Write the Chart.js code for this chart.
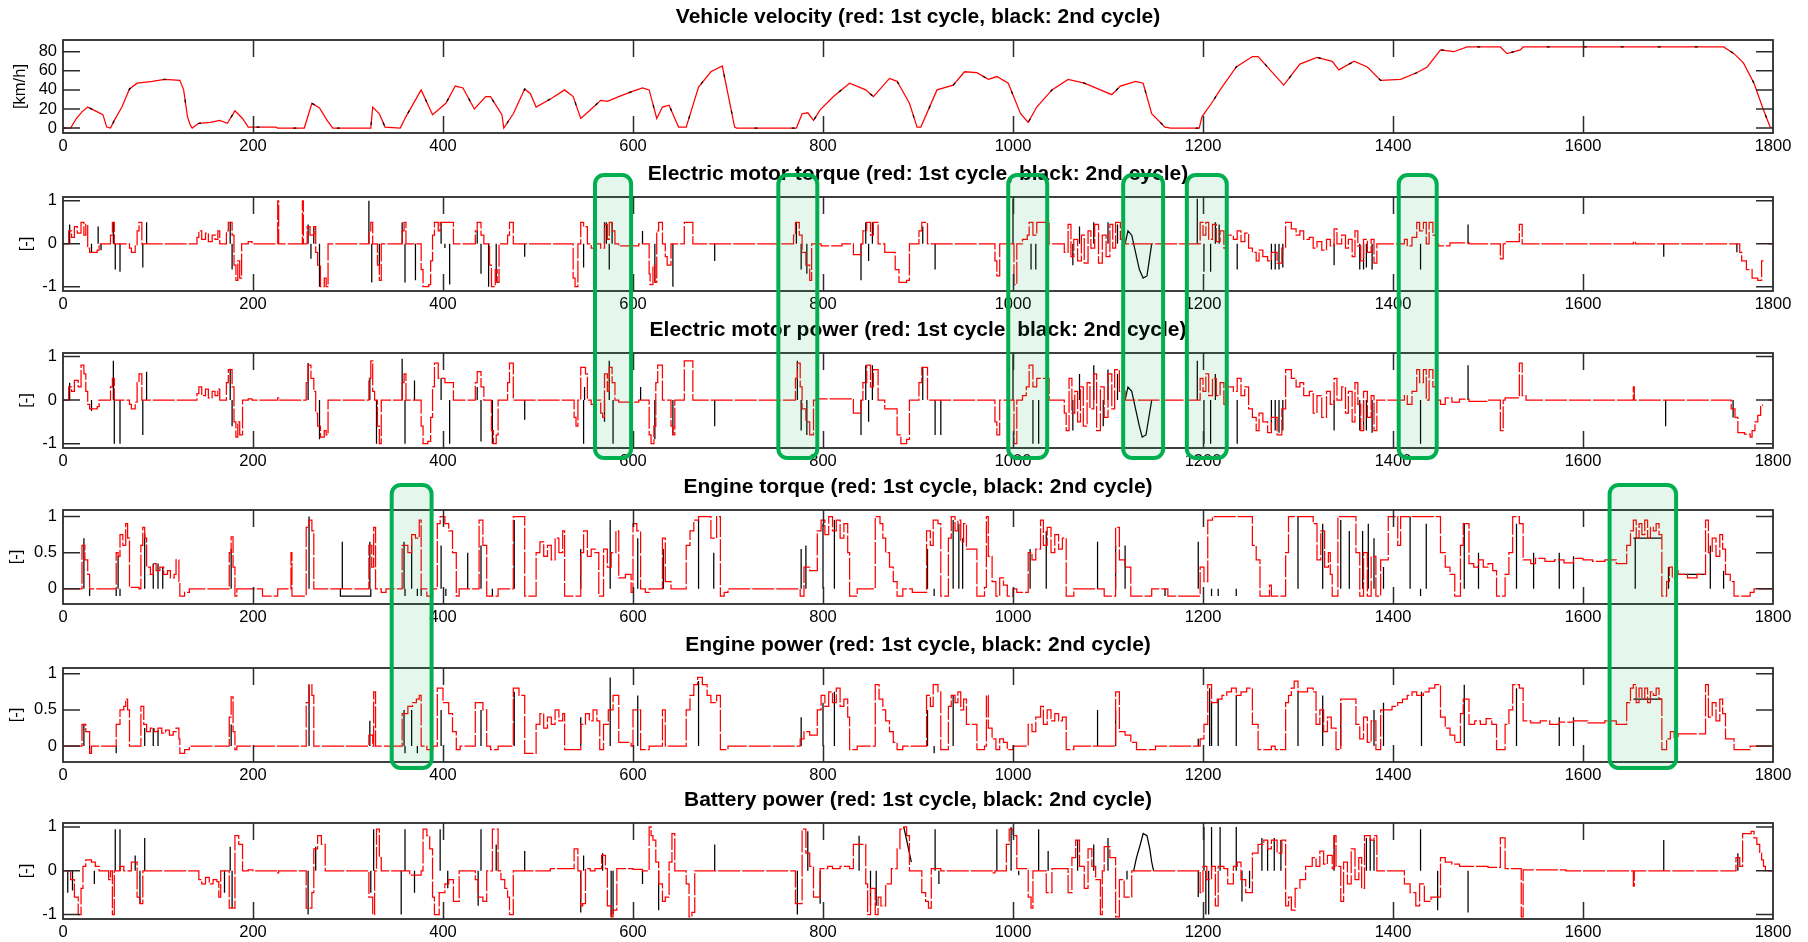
<!DOCTYPE html>
<html>
<head>
<meta charset="utf-8">
<title>Hybrid vehicle drive cycle – two cycles</title>
<script src="https://cdn.jsdelivr.net/npm/chart.js@4.4.1/dist/chart.umd.min.js"></script>
<style>
  html, body { margin: 0; padding: 0; background: #fff; }
  #stage { position: relative; width: 1808px; height: 942px; overflow: hidden; background: #fff; }
  #stage canvas { position: absolute; left: 0; }
  #marks { top: 0; pointer-events: none; }
</style>
</head>
<body>
<div id="stage"></div>
<script>
// ---------- axis ticks ----------
const timeTicks = [0, 200, 400, 600, 800, 1000, 1200, 1400, 1600, 1800];
const speedTicks = [0, 20, 40, 60, 80];
const signedTicks = [-1, 0, 1];
const unitTicks = [0, 0.5, 1];

// ---------- vehicle velocity [s, km/h] (both cycles follow the same schedule) ----------
const velocity = [
  [0,0],[8,0],[14,10],[20,17],[26,22],[34,18],[42,14],[46,1],[50,0],[54,8],[62,22],[70,41],[78,47],[94,49],[107,51],[123,50],[127,40],[131,12],[134,3],
  [136,0],[143,5],[155,6],[165,8],[173,5],[181,18],[189,10],[195,1],[224,1],[226,0],[254,0],[262,26],[270,21],[278,8],[284,0],[324,0],[326,22],[333,15],[339,1],[355,0],
  [361,12],[377,40],[389,14],[403,26],[413,44],[421,42],[433,20],[445,33],[450,33],[462,14],[464,0],[474,15],[486,41],[492,36],[498,22],[514,31],[528,40],[537,33],[545,10],
  [555,19],[566,29],[573,28],[585,33],[598,38],[610,42],[617,40],[625,10],[631,22],[638,24],[644,10],[648,1],[656,1],[669,43],[682,59],[694,65],[707,1],[709,0],
  [772,0],[778,15],[784,16],[790,8],[797,19],[811,33],[828,47],[845,40],[853,33],[870,52],[878,49],[891,26],[899,1],[903,1],[920,40],[937,45],[949,59],[962,58],
  [974,51],[983,54],[995,47],[1008,15],[1016,6],[1025,22],[1041,40],[1058,51],[1075,47],[1092,40],[1104,35],[1113,44],[1129,49],[1137,47],[1146,15],[1160,1],[1166,0],
  [1196,0],[1199,12],[1209,26],[1218,40],[1235,64],[1252,75],[1258,75],[1285,45],[1302,67],[1320,74],[1336,70],[1343,61],[1359,70],[1373,64],[1387,50],[1408,51],
  [1425,58],[1436,64],[1450,82],[1464,80],[1478,85],[1513,85],[1520,78],[1534,82],[1537,85],[1748,85],[1759,78],[1769,68],[1780,47],[1790,19],[1797,1],[1800,0]
];

// ---------- electric motor torque [-] ----------
const motorTorqueRed = [
  [0,0],[6,0.3],[9,0.15],[12,0.4],[15,0.25],[19,0.5],[22,0.2],[24,0.45],[26,-0.1],[28,-0.2],[36,-0.15],[38,0],[50,0.2],[52,0.5],[54,0],[70,-0.1],[72,-0.2],[76,-0.05],[78,0.3],[80,0.5],[83,0],
  [141,0.15],[143,0.3],[146,0.1],[150,0.25],[153,0.05],[157,0.2],[160,0.1],[163,0.3],[165,0],[172,0.3],[174,0.5],[178,0.2],[180,-0.5],[182,-0.85],[184,-0.4],[186,-0.8],[188,0],[195,0.05],[199,0],
  [226,1],[227,0],[252,1],[253,0],[257,0.4],[260,0.2],[264,0.4],[266,-0.2],[268,-0.5],[271,-1],[275,-0.8],[277,-1],[279,0],
  [322,0.3],[324,0.5],[326,0],[331,-0.5],[333,-0.85],[335,0],[357,0.3],[359,0.5],[361,0],[377,-0.6],[379,-1],[385,-0.95],[387,-0.4],[389,0.2],[391,0.5],[395,0.3],[397,0.5],[411,0],
  [434,0.3],[436,0.5],[440,0.2],[443,0],[449,-0.5],[451,-1],[455,-0.6],[457,-0.9],[459,0],[468,0.2],[470,0.5],[474,0],
  [537,-0.8],[539,-1],[542,0],[545,0.5],[548,0.4],[552,0],[556,-0.1],[560,0],[566,-0.1],[570,0.45],[573,0.1],[575,0.5],[578,0.3],[581,0],[585,-0.05],[606,0],
  [617,-0.7],[618,-0.95],[621,-0.5],[623,-0.9],[625,0.3],[627,0.5],[631,0],[634,-0.3],[636,-0.5],[640,0],[654,0.5],[663,0],
  [769,0.2],[771,0.5],[775,0.2],[778,-0.2],[782,-0.5],[786,-0.85],[788,0],[798,-0.05],[820,0],[832,-0.25],[840,0],[842,0.3],[846,0.5],[850,0.2],[853,0.5],[858,0],
  [865,-0.2],[876,-0.6],[880,-0.9],[888,-0.85],[891,0],[901,0.3],[904,0.5],[910,0],
  [981,-0.4],[983,-0.75],[986,0],[1001,-0.95],[1004,0],[1010,0.1],[1015,0.2],[1017,0.5],[1021,0.2],[1025,0.5],[1038,0],
  [1054,-0.2],[1058,0.45],[1061,-0.3],[1064,0.1],[1068,-0.4],[1072,0.2],[1075,-0.45],[1079,0.3],[1082,-0.1],[1086,0.45],[1090,-0.45],[1094,0.2],[1098,-0.3],[1102,0.45],[1105,-0.1],[1108,0.5],[1113,0.1],[1118,0],
  [1197,0.5],[1200,0.2],[1203,0.5],[1206,0.1],[1210,0.45],[1214,0.05],[1218,0.3],[1222,-0.1],[1226,0.2],[1232,0.1],[1236,0.3],[1240,0.05],[1244,0.25],[1248,-0.1],[1252,-0.2],[1256,-0.4],
  [1259,-0.15],[1263,-0.3],[1268,-0.4],[1272,-0.2],[1278,-0.45],[1283,-0.1],[1287,0.5],[1293,0.35],[1298,0.2],[1302,0.3],[1306,0.1],[1312,0.15],[1316,-0.1],[1320,0.05],[1325,-0.15],
  [1330,0.1],[1334,-0.05],[1338,0.35],[1341,0],[1346,0.2],[1350,-0.1],[1353,0.1],[1357,-0.3],[1360,0.3],[1363,-0.05],[1366,-0.4],[1369,0.1],[1373,-0.2],[1377,0.1],[1380,-0.45],[1383,0],
  [1412,0.1],[1415,-0.05],[1420,0.15],[1425,0.5],[1428,0.3],[1432,0.5],[1435,0],[1438,0.5],[1442,0.2],[1446,0],[1448,-0.05],[1460,0.02],[1480,0],[1513,-0.35],[1516,0],[1518,0.05],[1533,0.45],[1536,0],
  [1653,0.05],[1655,0],[1765,-0.2],[1767,-0.4],[1772,-0.6],[1778,-0.8],[1784,-0.85],[1788,-0.4],[1790,-0.4],[1790,null],[1795,0],[1800,0]
];
const motorTorqueBlackSpikes = [
  [7,0.45],[30,-0.2],[37,0.4],[40,-0.15],[53,0.5],[55,-0.6],[60,-0.65],[84,-0.55],[88,0.5],[176,0.5],[178,-0.6],[258,0.45],[261,-0.35],[264,0.4],[270,-1],
  [322,1],[325,-0.9],[333,-0.5],[357,0.5],[360,-0.9],[371,-0.85],[398,0.5],[402,-0.1],[407,-0.95],[436,0.3],[440,-0.7],[448,-1],[456,-0.9],[486,-0.3],[548,-0.55],
  [570,0.5],[572,0.5],[575,-0.6],[578,0.5],[610,0.3],[623,-0.9],[642,-1],[686,-0.4],[772,0.5],[777,-0.6],[783,-0.7],[840,-0.85],[845,0.5],[848,-0.4],[852,0.5],
  [905,0.4],[918,-0.6],[1000,1.05],[1019,-0.6],[1024,-0.6],[1063,-0.5],[1070,0.4],[1085,0.5],[1100,0.5],[1110,0.45],[1194,1.05],[1201,-0.65],[1208,-0.65],[1213,0.5],
  [1217,0.45],[1236,-0.6],[1272,-0.6],[1276,-0.6],[1280,-0.6],[1284,-0.55],[1338,-0.5],[1365,-0.6],[1369,-0.6],[1372,-0.55],[1378,-0.6],[1429,-0.6],[1479,0.45],[1685,-0.3],[1762,-0.2]
];
const motorTorqueBlackTraces = [
  [[1118,0],[1121,0.3],[1125,0.2],[1129,-0.2],[1133,-0.6],[1137,-0.8],[1141,-0.75],[1144,-0.3],[1146,0]]
];

// ---------- electric motor power [-] ----------
const motorPowerRed = [
  [0,0],[6,0.3],[9,0.2],[12,0.45],[16,0.3],[19,0.8],[22,0.6],[24,0.2],[26,-0.1],[28,-0.2],[36,-0.15],[38,0],[50,0.3],[52,0.5],[54,0],[70,-0.1],[72,-0.2],[76,-0.05],[78,0.4],[80,0.6],[83,0],
  [141,0.15],[143,0.3],[146,0.1],[150,0.25],[153,0.05],[157,0.2],[160,0.1],[163,0.25],[165,0],[172,0.4],[174,0.7],[178,0.3],[180,-0.5],[182,-0.85],[184,-0.5],[186,-0.8],[189,0],[195,0.03],[199,0],
  [226,0.05],[227,0],[256,0.4],[258,0.8],[261,0.5],[264,0.2],[266,-0.3],[268,-0.6],[271,-0.85],[275,-0.7],[277,-0.8],[279,0],
  [322,0.5],[324,0.9],[326,0.2],[328,0],[331,-0.6],[333,-1],[335,0],[357,0.4],[359,0.6],[361,0],[377,-0.6],[379,-1],[384,-0.95],[387,-0.4],[389,0.3],[391,0.85],[395,0.5],[402,0.4],[411,0],
  [434,0.4],[436,0.65],[440,0.3],[443,0],[451,-0.7],[453,-1],[456,-0.8],[458,0],[468,0.4],[470,0.85],[474,0],
  [538,-0.4],[540,-0.6],[542,0],[545,0.75],[550,0.6],[552,0],[556,-0.1],[560,0],[566,-0.3],[568,-0.4],[570,0.6],[573,0.2],[575,0.75],[578,0.4],[581,0],[585,-0.05],[606,0],
  [617,-0.8],[619,-1],[622,-0.6],[624,0.4],[626,0.8],[631,0],[640,-0.6],[642,-0.8],[644,0],[654,0.9],[663,0],
  [771,0.5],[773,0.85],[776,0.3],[778,-0.2],[782,-0.5],[786,-0.8],[790,0],[794,0.03],[832,-0.3],[840,0],[842,0.4],[846,0.8],[850,0.3],[853,0.7],[858,0],
  [865,-0.2],[878,-0.8],[882,-1],[888,-0.9],[891,0],[901,0.4],[904,0.75],[910,0],
  [981,-0.5],[983,-0.8],[986,0],[1001,-1],[1004,0],[1010,0.1],[1014,0.3],[1017,0.8],[1021,0.3],[1025,0.5],[1038,0],
  [1054,-0.3],[1056,-0.7],[1059,0.5],[1062,-0.3],[1065,0.2],[1068,-0.5],[1071,0.3],[1074,-0.6],[1078,0.4],[1081,-0.2],[1085,0.6],[1088,-0.7],[1092,0.3],[1096,-0.4],[1100,0.6],[1104,-0.2],[1107,0.7],[1112,0.2],[1118,0],
  [1197,0.5],[1200,0.2],[1203,0.6],[1206,0.1],[1210,0.5],[1214,0.1],[1218,0.4],[1222,-0.1],[1226,0.3],[1232,0.2],[1236,0.5],[1240,0.1],[1244,0.3],[1248,-0.2],[1252,-0.4],[1256,-0.7],
  [1259,-0.3],[1263,-0.5],[1268,-0.75],[1272,-0.4],[1278,-0.8],[1283,-0.2],[1287,0.7],[1293,0.5],[1298,0.3],[1302,0.4],[1306,0.1],[1312,0.2],[1316,-0.3],[1320,0.1],[1325,-0.4],
  [1330,0.2],[1334,-0.1],[1338,0.5],[1341,0],[1346,0.3],[1350,-0.3],[1353,0.2],[1357,-0.5],[1360,0.4],[1363,-0.1],[1366,-0.7],[1369,0.2],[1373,-0.4],[1377,0.1],[1380,-0.7],[1383,0],
  [1412,0.1],[1415,-0.1],[1420,0.2],[1425,0.7],[1428,0.4],[1432,0.7],[1435,0],[1438,0.7],[1442,0.3],[1446,0],[1450,-0.1],[1455,0.05],[1462,-0.05],[1470,0.02],[1480,-0.03],[1500,0],
  [1513,-0.7],[1516,0],[1518,0.05],[1533,0.85],[1536,0.1],[1540,0],[1653,0.3],[1654,0],
  [1756,-0.2],[1760,-0.4],[1763,-0.75],[1770,-0.78],[1776,-0.85],[1778,-0.7],[1781,-0.5],[1784,-0.35],[1787,-0.15],[1789,-0.1],[1790,null],[1795,0],[1800,0]
];
const motorPowerBlackSpikes = [
  [7,0.4],[30,-0.25],[53,0.9],[54,-1],[60,-1],[84,-0.8],[88,0.65],[176,0.72],[178,-0.6],[258,0.85],[270,-0.9],[323,0.5],[330,-1],[357,0.95],[360,-1],[370,0.45],
  [398,0.5],[407,-1],[436,0.3],[440,-0.95],[452,-1],[486,-0.45],[548,-1],[549,0.3],[570,-0.5],[575,0.9],[579,-1],[608,0.3],[623,-0.9],[642,-0.8],[686,-0.6],
  [773,0.9],[777,-0.7],[783,-0.8],[840,-0.8],[845,0.8],[848,-0.5],[852,0.8],[905,0.75],[918,-0.8],[924,-0.8],[1000,1.05],[1021,-1],[1027,-1],[1063,-0.7],[1070,0.6],
  [1085,0.8],[1095,-0.6],[1100,0.7],[1110,0.6],[1194,0.9],[1201,-1],[1208,-1],[1213,0.6],[1236,-1],[1272,-0.7],[1276,-0.7],[1280,-0.75],[1284,-0.7],[1338,-0.7],
  [1365,-0.7],[1369,-0.7],[1372,-0.7],[1378,-0.75],[1429,-1],[1479,0.8],[1687,-0.6],[1758,-0.4]
];
const motorPowerBlackTraces = [
  [[1118,0],[1121,0.3],[1125,0.2],[1129,-0.2],[1133,-0.6],[1136,-0.85],[1140,-0.8],[1143,-0.4],[1146,0]]
];

// ---------- engine torque [-] ----------
const engineTorqueRed = [
  [0,0],[20,0.6],[23,0.4],[26,0.2],[28,0],[56,0.5],[58,0.45],[60,0.75],[63,0.6],[66,0.9],[68,0.7],[70,0.02],[80,0],[82,0.6],[84,0.85],[86,0.7],[88,0.3],[92,0.2],[95,0.35],[98,0.25],
  [102,0.3],[106,0.2],[110,0.25],[113,0.15],[117,0.2],[119,0.4],[122,0.1],[123,-0.1],[128,-0.05],[133,0],
  [175,0.5],[177,0.72],[179,0.3],[181,-0.1],[183,0],[210,-0.1],[226,0],[240,0.5],[241,-0.1],[256,0.85],[259,0.95],[262,0.8],[264,0],
  [322,0.6],[325,0.3],[327,0.85],[329,0],[335,-0.05],[340,0],[357,0.6],[363,0.5],[367,0.75],[371,0.7],[375,0.95],[377,0],[383,-0.1],[389,0],
  [394,0.9],[397,1],[402,0.9],[406,0.8],[410,0.5],[414,-0.1],[417,0],[438,0.95],[442,0.6],[446,-0.1],[458,0],[474,1],[486,-0.1],[498,0.5],[502,0.65],[506,0.45],[510,0.6],
  [514,0.4],[518,0.7],[522,0.5],[526,0.8],[528,-0.1],[545,0.5],[548,0.8],[552,0.45],[556,0.55],[560,0.5],[564,-0.1],[569,0.55],[573,0.3],[577,0.5],[582,0.8],[585,0.15],
  [592,0.2],[598,-0.05],[600,0.9],[604,0.8],[608,0],[613,-0.05],[617,0],[631,0.7],[634,0.1],[640,0],[656,0.6],[660,0.8],[664,0.95],[669,1],[682,0.7],[688,1],[692,-0.1],[696,-0.05],[700,0],
  [776,-0.1],[780,0.3],[786,0.25],[794,0.8],[798,0.95],[802,0.75],[806,1],[810,0.8],[814,0.95],[818,0.7],[822,0.9],[826,0.5],[828,-0.1],[836,0],[855,1],[860,0.9],[863,0.7],
  [866,0.5],[870,0.3],[874,0.1],[878,-0.1],[884,0],[894,-0.05],[909,0.8],[913,0.6],[916,0.95],[921,0.9],[924,-0.1],[932,0.7],[935,1],[939,0.8],[942,0.95],[945,0.65],[948,0.9],
  [951,0.55],[962,-0.1],[970,0.02],[972,1],[974,0.45],[978,0.1],[982,-0.1],[986,0.15],[990,0.05],[994,-0.1],[1000,0],[1004,-0.05],[1016,0.5],[1020,0.4],[1024,0.55],[1029,0.95],
  [1032,0.6],[1036,0.85],[1040,0.5],[1044,0.75],[1048,0.55],[1052,0.7],[1056,-0.1],[1064,0],[1096,-0.1],[1108,0.85],[1112,0.4],[1118,0.3],[1124,-0.1],[1146,0],[1163,-0.1],
  [1197,0.3],[1201,0.1],[1205,0.95],[1210,1],[1252,0.6],[1256,0.4],[1260,-0.1],[1270,0.05],[1272,-0.1],[1287,0.5],[1290,1],[1316,0.9],[1320,0.4],[1324,0.8],[1328,0.3],[1332,0.5],
  [1334,0.2],[1336,-0.1],[1342,1],[1361,0.5],[1365,-0.1],[1369,0.5],[1373,-0.1],[1377,0.45],[1382,-0.1],[1387,0.4],[1395,1],[1405,0.6],[1408,1],[1450,0.5],[1455,0.3],[1460,0.2],
  [1465,-0.1],[1471,0.6],[1474,0.9],[1480,0.35],[1485,0.3],[1490,0.4],[1495,0.3],[1500,0.35],[1505,0.25],[1509,-0.1],[1518,0.2],[1522,0.5],[1526,1],[1533,0.9],[1537,0.4],
  [1545,0.35],[1550,0.42],[1560,0.38],[1570,0.4],[1580,0.36],[1590,0.42],[1600,0.4],[1610,0.38],[1623,0.4],[1635,0.35],[1646,0.6],[1650,0.8],[1653,0.95],[1656,0.7],[1659,0.9],
  [1662,0.75],[1665,0.95],[1668,0.7],[1671,0.85],[1674,0.8],[1677,0.9],[1680,0.75],[1683,-0.1],[1688,0.1],[1691,0.3],[1694,0.15],[1697,0.25],[1700,0.2],[1710,0.15],[1720,0.2],
  [1729,0.95],[1732,0.5],[1736,0.7],[1740,0.45],[1744,0.75],[1747,0.55],[1750,0.2],[1755,0.1],[1759,-0.1],[1776,-0.05],[1780,0],[1800,0]
];
const engineTorqueBlackSpikes = [
  [22,0.7],[28,-0.1],[56,-0.1],[58,0.45],[60,-0.1],[86,0.77],[95,0.35],[100,0.35],[105,0.3],[177,0.55],[259,1],[294,0.65],[323,0.65],[359,0.65],[360,-0.1],[367,0.7],
  [373,-0.1],[377,-0.1],[398,0.6],[403,-0.1],[426,0.5],[440,0.6],[452,-0.1],[475,0.95],[545,0.55],[576,0.95],[605,0.7],[632,0.55],[669,0.95],[685,0.5],[777,0.55],[782,0.6],
  [800,0.9],[812,0.95],[910,0.55],[917,-0.1],[937,0.95],[943,0.9],[947,0.7],[1018,0.55],[1035,0.8],[1089,0.65],[1108,0.6],[1118,0.6],[1160,-0.1],[1195,0.65],[1209,-0.1],
  [1216,-0.1],[1235,-0.1],[1300,1],[1326,0.9],[1345,0.95],[1354,0.8],[1368,0.8],[1374,0.9],[1380,0.7],[1390,0.3],[1418,1],[1429,-0.1],[1435,0.9],[1475,0.9],[1490,0.5],
  [1530,0.9],[1548,0.5],[1575,0.5],[1590,0.45],[1655,0.7],[1690,0.3],[1734,0.6],[1748,0.25]
];
const engineTorqueBlackTraces = [
  [[292,0],[292,-0.1],[324,-0.1],[324,0]],
  [[1653,0.7],[1683,0.7]],
  [[1700,0.2],[1729,0.2]]
];

// ---------- engine power [-] ----------
const enginePowerRed = [
  [0,0],[20,0.3],[24,0.2],[28,-0.1],[30,0],[56,0.3],[60,0.5],[64,0.55],[66,0.65],[68,0.5],[70,0],[82,0.55],[85,0.3],[88,0.2],[92,0.25],[96,0.2],[100,0.25],[104,0.18],[108,0.22],
  [112,0.15],[116,0.2],[119,0.25],[122,0.1],[123,-0.1],[128,-0.05],[133,0],
  [175,0.4],[177,0.68],[179,0.2],[181,-0.05],[183,0],[256,0.6],[259,0.85],[262,0.7],[264,0],[322,0.15],[326,0],[327,0.75],[329,0],[357,0.45],[363,0.55],[368,0.6],[372,0.65],
  [375,0.7],[377,0],[383,-0.05],[389,0],[394,0.8],[400,0.6],[406,0.45],[410,0.2],[414,-0.05],[418,0],[434,0.6],[442,0.5],[446,0],[450,-0.05],[458,0],[474,0.8],[480,0.7],
  [486,-0.1],[498,0.3],[502,0.45],[506,0.25],[510,0.4],[514,0.3],[518,0.5],[522,0.35],[526,0.45],[528,-0.05],[545,0.3],[550,0.45],[554,0.35],[558,0.5],[562,0.35],[565,-0.05],
  [569,0.3],[574,0.5],[579,0.7],[585,0.05],[598,0],[600,0.5],[608,-0.05],[617,0],[631,0.5],[634,0],[656,0.5],[660,0.7],[664,0.85],[668,0.95],[673,0.85],[678,0.7],[682,0.6],
  [688,0.7],[692,-0.05],[700,0],
  [776,0.1],[780,0.2],[786,0.15],[794,0.5],[798,0.7],[802,0.55],[806,0.75],[810,0.6],[814,0.8],[818,0.55],[822,0.65],[826,0.4],[828,-0.05],[836,0],[855,0.85],[859,0.65],
  [863,0.5],[866,0.35],[870,0.2],[874,0.05],[878,-0.05],[884,0],[909,0.7],[913,0.55],[916,0.85],[921,0.75],[924,-0.05],[932,0.55],[935,0.7],[939,0.6],[942,0.75],[945,0.5],
  [948,0.65],[951,0.3],[962,-0.05],[970,0],[972,0.7],[974,0.25],[978,0.1],[982,-0.05],[986,0.1],[990,0.05],[994,-0.05],[1000,0],[1016,0.3],[1020,0.2],[1024,0.4],[1029,0.55],
  [1032,0.3],[1036,0.5],[1040,0.35],[1044,0.45],[1048,0.35],[1052,0.4],[1056,-0.05],[1064,0],[1108,0.75],[1112,0.2],[1118,0.15],[1124,0.05],[1130,-0.05],[1150,0],
  [1197,0.1],[1201,0.3],[1205,0.85],[1209,0.6],[1215,0.65],[1220,0.7],[1225,0.75],[1230,0.8],[1235,0.7],[1240,0.75],[1246,0.8],[1252,0.3],[1258,-0.05],[1272,0],[1276,-0.05],
  [1287,0.6],[1290,0.7],[1293,0.8],[1296,0.9],[1300,0.75],[1310,0.8],[1316,0.75],[1319,0.3],[1323,0.5],[1327,0.2],[1331,0.4],[1335,0.25],[1340,-0.05],[1345,0.65],[1361,0.3],
  [1365,0.1],[1369,0.4],[1373,0.05],[1377,0.35],[1382,-0.05],[1387,0.5],[1399,0.55],[1405,0.6],[1410,0.65],[1415,0.7],[1420,0.75],[1425,0.7],[1432,0.75],[1438,0.8],[1444,0.85],
  [1450,0.4],[1455,0.25],[1460,0.15],[1465,0.05],[1471,0.45],[1474,0.65],[1480,0.3],[1486,0.35],[1492,0.3],[1498,0.38],[1504,0.3],[1509,-0.05],[1518,0.3],[1522,0.5],[1526,0.85],
  [1533,0.8],[1537,0.35],[1545,0.32],[1555,0.35],[1565,0.3],[1575,0.33],[1590,0.35],[1605,0.32],[1623,0.35],[1635,0.3],[1646,0.6],[1650,0.8],[1653,0.85],[1656,0.6],[1659,0.8],
  [1662,0.65],[1665,0.8],[1668,0.6],[1671,0.75],[1674,0.7],[1677,0.8],[1680,0.65],[1683,-0.05],[1688,0.1],[1692,0.2],[1696,0.12],[1700,0.17],[1729,0.85],[1732,0.4],[1736,0.6],
  [1740,0.35],[1744,0.65],[1747,0.45],[1750,0.1],[1759,-0.05],[1776,0],[1800,0]
];
const enginePowerBlackSpikes = [
  [22,0.3],[28,-0.1],[56,-0.1],[86,0.25],[95,0.25],[100,0.22],[177,0.3],[259,0.85],[323,0.35],[359,0.5],[360,-0.1],[367,0.5],[373,-0.1],[398,0.5],[440,0.5],[475,0.75],
  [545,0.4],[576,0.95],[605,0.7],[669,0.9],[777,0.4],[800,0.6],[812,0.75],[910,0.5],[917,-0.1],[937,0.7],[1089,0.5],[1108,0.5],[1195,0.1],[1207,0.8],[1300,0.75],[1326,0.7],
  [1345,0.6],[1380,0.5],[1390,0.6],[1430,0.75],[1475,0.85],[1530,0.8],[1575,0.4],[1590,0.4]
];
const enginePowerBlackTraces = [
  [[1653,0.65],[1683,0.65]],
  [[1209,0.6],[1209,0]],[[1216,0.65],[1216,0]],[[1235,0.7],[1235,0]]
];

// ---------- battery power [-] ----------
const batteryPowerRed = [
  [0,0],[8,-0.2],[12,-0.6],[16,-1],[19,-0.4],[21,0.1],[24,0.25],[30,0.2],[34,0.1],[38,0],[48,-0.2],[50,0],[52,-1],[54,0],[60,0.1],[64,0],[72,0.2],[78,-0.6],[81,-0.75],[84,0],
  [143,-0.2],[146,-0.3],[150,-0.15],[154,-0.3],[158,-0.2],[162,-0.25],[164,-0.6],[166,0],[175,-0.85],[181,0.8],[185,0.6],[189,0],[195,0.02],[200,0],[226,-0.05],[227,0],
  [256,-0.85],[262,-0.5],[264,0.5],[268,0.8],[272,0.6],[276,0],
  [322,-0.6],[326,-1],[328,0],[330,0.95],[333,0.3],[335,0],[365,-0.1],[377,0],[379,0.95],[383,0.8],[386,0.5],[389,-0.6],[391,-1],[396,-0.5],[402,-0.3],[406,-0.2],[411,-0.7],[417,0],
  [434,-0.2],[437,-0.6],[442,-0.7],[446,0],[452,0.95],[458,0],[461,-0.2],[465,-0.4],[468,-0.6],[470,-1],[474,0],
  [513,0.05],[538,0.5],[542,0],[545,-0.8],[547,-0.75],[550,0.05],[555,0],[560,0.05],[567,0.35],[571,0.05],[573,-0.8],[577,-1.05],[579,-0.9],[583,0.05],[600,0.03],[610,0],
  [617,1],[619,0.8],[621,0.7],[624,0.2],[627,-0.3],[631,-0.7],[634,-0.6],[638,0.2],[641,0.85],[644,0],[656,-0.3],[659,-1.05],[662,-0.95],[665,0],
  [771,-0.75],[778,0.95],[782,0.4],[786,0.1],[790,-0.6],[797,0.05],[805,0.1],[810,0.05],[818,0.1],[828,0.05],[832,0.6],[845,-0.3],[847,-1],[850,-0.4],[855,-1],[858,-0.6],
  [861,-0.8],[866,-0.3],[872,0.05],[878,0.5],[881,0.95],[885,1],[888,0.8],[891,0],[904,-0.5],[908,-0.7],[911,-0.85],[914,0.05],[924,0],[979,-0.05],[981,0],
  [993,0.6],[996,0.95],[1000,0.8],[1004,0.05],[1016,-0.6],[1019,-0.85],[1021,0],[1035,-0.5],[1041,0.05],[1058,-0.5],[1062,0.3],[1066,0.7],[1070,0.1],[1075,-0.4],[1079,0.5],
  [1083,0.1],[1087,-0.2],[1092,-1],[1094,0],[1096,0.55],[1102,0.3],[1108,-1.05],[1112,-0.2],[1117,-0.6],[1125,0],
  [1197,-0.5],[1200,0.1],[1204,-0.2],[1209,0.1],[1213,-0.8],[1216,0.1],[1222,0.05],[1226,-0.3],[1232,0.1],[1236,0.2],[1240,-0.2],[1245,-0.5],[1252,0.4],[1258,0.6],[1264,0.7],
  [1268,0.5],[1272,0.7],[1278,0.4],[1283,0.7],[1287,-0.8],[1290,-0.6],[1293,-0.9],[1297,-0.4],[1302,-0.2],[1308,0.1],[1315,0.3],[1319,0.1],[1323,0.45],[1327,0.15],[1331,0.35],
  [1336,0.05],[1338,0.8],[1340,0.1],[1345,-0.7],[1348,0.2],[1352,-0.3],[1356,0.5],[1360,-0.2],[1364,0.3],[1367,-0.4],[1370,0.8],[1376,0.7],[1380,0.8],[1383,0],
  [1412,-0.3],[1418,-0.5],[1424,-0.8],[1428,-0.3],[1433,-0.7],[1440,-0.6],[1450,0.3],[1455,0.2],[1462,0.15],[1470,0.1],[1480,0.1],[1500,0.08],[1513,0.75],[1518,0.05],
  [1535,-1.05],[1537,0.02],[1582,0],[1653,-0.35],[1654,0],[1761,0.3],[1765,0.1],[1768,0.85],[1777,0.9],[1780,0.75],[1783,0.6],[1786,0.4],[1788,0.25],[1790,0.1],[1792,0],[1800,0]
];
const batteryPowerBlackSpikes = [
  [5,-0.5],[10,-0.45],[33,-0.3],[55,0.95],[60,0.95],[76,0.35],[81,-0.75],[86,0.75],[170,-0.5],[176,0.55],[178,-0.85],[258,-1],[266,0.55],[324,-0.5],[327,0.95],[356,-1],
  [360,0.95],[370,-0.5],[397,0.95],[405,-0.4],[437,-0.8],[440,0.95],[456,0.6],[486,0.45],[545,-0.95],[548,0.35],[568,0.4],[577,-1.05],[579,-1],[610,-0.3],[627,-0.9],
  [686,0.6],[773,-1],[784,0.9],[797,-0.75],[838,0.8],[850,-0.8],[856,-0.8],[918,0.95],[922,-0.3],[983,0.95],[998,1],[1006,-0.1],[1027,0.95],[1037,0.45],[1068,0.7],
  [1085,0.6],[1100,0.75],[1120,-0.2],[1195,-0.6],[1201,1],[1203,-1],[1206,-1],[1209,1],[1218,1],[1235,1],[1241,-0.7],[1249,-0.4],[1262,0.75],[1268,0.7],[1275,0.75],
  [1282,0.7],[1338,0.8],[1372,0.75],[1376,0.75],[1380,0.7],[1429,0.95],[1447,-0.9],[1479,-0.95],[1685,0.7],[1763,0.4]
];
const batteryPowerBlackTraces = [
  [[1127,0],[1130,0.3],[1134,0.6],[1137,0.85],[1141,0.8],[1144,0.5],[1146,0.2],[1148,0]],
  [[885,1],[889,0.6],[893,0.2]]
];

// ---------- highlighted time windows [s] ----------
const motorWindows = [[560, 598], [753, 794], [995, 1036], [1116, 1158], [1183, 1225], [1406, 1446]];
const engineWindows = [[346, 388], [1628, 1698]];

// ---------- layout / drawing ----------
const FONT = '"Liberation Sans", Arial, Helvetica, sans-serif';
const TITLE_BLOCK = 38;   // title height incl. paddings
const XAXIS_BLOCK = 30;   // height reserved for time labels
const TICK_LEN = 17;
const LINE_W = 1.25;

const panels = [
  { title: 'Vehicle velocity (red: 1st cycle, black: 2nd cycle)', top: 40, bottom: 133, min: -5.2, max: 92.3,
    yTicks: speedTicks, yTitle: '[km/h]', yTitlePad: 11, red: velocity, blackLine: velocity, stepped: false },
  { title: 'Electric motor torque (red: 1st cycle, black: 2nd cycle)', top: 197, bottom: 291, min: -1.1, max: 1.09,
    yTicks: signedTicks, yTitle: '[-]', yTitlePad: 17, red: motorTorqueRed, spikes: motorTorqueBlackSpikes, traces: motorTorqueBlackTraces, stepped: true },
  { title: 'Electric motor power (red: 1st cycle, black: 2nd cycle)', top: 353, bottom: 448, min: -1.1, max: 1.08,
    yTicks: signedTicks, yTitle: '[-]', yTitlePad: 17, red: motorPowerRed, spikes: motorPowerBlackSpikes, traces: motorPowerBlackTraces, stepped: true },
  { title: 'Engine torque (red: 1st cycle, black: 2nd cycle)', top: 510, bottom: 604, min: -0.21, max: 1.09,
    yTicks: unitTicks, yTitle: '[-]', yTitlePad: 7, red: engineTorqueRed, spikes: engineTorqueBlackSpikes, traces: engineTorqueBlackTraces, stepped: true },
  { title: 'Engine power (red: 1st cycle, black: 2nd cycle)', top: 668, bottom: 762, min: -0.22, max: 1.08,
    yTicks: unitTicks, yTitle: '[-]', yTitlePad: 7, red: enginePowerRed, spikes: enginePowerBlackSpikes, traces: enginePowerBlackTraces, stepped: true },
  { title: 'Battery power (red: 1st cycle, black: 2nd cycle)', top: 823, bottom: 919, min: -1.1, max: 1.09,
    yTicks: signedTicks, yTitle: '[-]', yTitlePad: 17, red: batteryPowerRed, spikes: batteryPowerBlackSpikes, traces: batteryPowerBlackTraces, stepped: true }
];

function toPoints(list) {
  return list.map(p => ({ x: p[0], y: p[1] }));
}
function blackPoints(spikes, traces) {
  const out = [];
  for (const [t, v] of spikes) {
    out.push({ x: t, y: 0 }, { x: t, y: v }, { x: t, y: null });
  }
  for (const tr of traces) {
    for (const p of tr) out.push({ x: p[0], y: p[1] });
    out.push({ x: tr[tr.length - 1][0], y: null });
  }
  return out;
}

// MATLAB-like frame: box plus inward ticks on all four sides
const framePlugin = {
  id: 'frame',
  afterDatasetsDraw(chart) {
    const { ctx, chartArea: a, scales } = chart;
    const yt = chart.options.plugins.frame.yTicks;
    ctx.save();
    ctx.strokeStyle = '#2b2b2b';
    ctx.lineWidth = 1.5;
    ctx.beginPath();
    for (const t of timeTicks) {
      if (t <= 0 || t >= 1800) continue;
      const px = Math.round(scales.x.getPixelForValue(t)) + 0.5;
      ctx.moveTo(px, a.bottom); ctx.lineTo(px, a.bottom - TICK_LEN);
      ctx.moveTo(px, a.top); ctx.lineTo(px, a.top + TICK_LEN);
    }
    for (const v of yt) {
      const py = scales.y.getPixelForValue(v);
      ctx.moveTo(a.left, py); ctx.lineTo(a.left + TICK_LEN, py);
      ctx.moveTo(a.right, py); ctx.lineTo(a.right - TICK_LEN, py);
    }
    ctx.stroke();
    ctx.lineWidth = 1.8;
    ctx.strokeRect(a.left, a.top, a.right - a.left, a.bottom - a.top);
    ctx.restore();
  }
};

const stage = document.getElementById('stage');
const charts = [];

panels.forEach((p) => {
  const canvas = document.createElement('canvas');
  const h = TITLE_BLOCK + (p.bottom - p.top) + XAXIS_BLOCK;
  canvas.width = 1808; canvas.height = h;
  canvas.style.width = '1808px'; canvas.style.height = h + 'px';
  canvas.style.top = (p.top - TITLE_BLOCK) + 'px';
  stage.appendChild(canvas);

  const shared = !!p.blackLine;
  const black = shared ? toPoints(p.blackLine) : blackPoints(p.spikes, p.traces);

  const chart = new Chart(canvas, {
    type: 'line',
    data: {
      datasets: [
        { label: '1st cycle', data: toPoints(p.red), borderColor: '#ff0000', borderWidth: LINE_W,
          pointRadius: 0, stepped: p.stepped, spanGaps: false, tension: 0,
          borderDash: shared ? [] : [22, 2], order: shared ? 1 : 0 },
        { label: '2nd cycle', data: black, borderColor: '#000000', borderWidth: LINE_W,
          pointRadius: 0, stepped: false, spanGaps: false, tension: 0,
          borderDash: shared ? [3, 34] : [], order: shared ? 0 : 1 }
      ]
    },
    options: {
      responsive: false,
      animation: false,
      devicePixelRatio: 1,
      events: [],
      layout: { padding: { left: 0, right: 35, top: 0, bottom: 0 } },
      plugins: {
        legend: { display: false },
        tooltip: { enabled: false },
        title: { display: true, text: p.title, fullSize: false, color: '#000',
                 font: { family: FONT, size: 21, weight: 'bold' }, padding: { top: 2.4, bottom: 10.4 } },
        frame: { yTicks: p.yTicks }
      },
      scales: {
        x: {
          type: 'linear', min: 0, max: 1800,
          afterBuildTicks: s => { s.ticks = timeTicks.map(v => ({ value: v })); },
          afterFit: s => { s.height = XAXIS_BLOCK; },
          grid: { display: false, drawTicks: false }, border: { display: false },
          ticks: { color: '#000', font: { family: FONT, size: 16.5 }, padding: 4, maxRotation: 0, autoSkip: false,
                   callback: v => String(v) }
        },
        y: {
          type: 'linear', min: p.min, max: p.max,
          afterBuildTicks: s => { s.ticks = p.yTicks.map(v => ({ value: v })); },
          afterFit: s => { s.width = 63; },
          grid: { display: false, drawTicks: false }, border: { display: false },
          ticks: { color: '#000', font: { family: FONT, size: 16.5 }, padding: 6, callback: v => String(v) },
          title: { display: true, text: p.yTitle, color: '#000', font: { family: FONT, size: 16.5 },
                   padding: { top: p.yTitlePad, bottom: 0 } }
        }
      }
    },
    plugins: [framePlugin]
  });
  charts.push(chart);
});

// highlighted windows drawn across panel pairs
const marks = document.createElement('canvas');
marks.id = 'marks';
marks.width = 1808; marks.height = 942;
marks.style.width = '1808px'; marks.style.height = '942px';
stage.appendChild(marks);
const mctx = marks.getContext('2d');

function drawWindows(windows, upper, lower, padTop, padBottom) {
  const cu = charts[upper], cl = charts[lower];
  const offU = panels[upper].top - TITLE_BLOCK;
  const offL = panels[lower].top - TITLE_BLOCK;
  const y0 = offU + cu.chartArea.top - padTop;
  const y1 = offL + cl.chartArea.bottom + padBottom;
  for (const [t0, t1] of windows) {
    const x0 = cu.scales.x.getPixelForValue(t0);
    const x1 = cu.scales.x.getPixelForValue(t1);
    mctx.beginPath();
    mctx.roundRect(x0, y0, x1 - x0, y1 - y0, 9);
    mctx.fillStyle = 'rgba(0, 176, 80, 0.10)';
    mctx.fill();
    mctx.lineWidth = 4;
    mctx.strokeStyle = '#00b050';
    mctx.stroke();
  }
}
drawWindows(motorWindows, 1, 2, 22, 10);
drawWindows(engineWindows, 3, 4, 25, 6);
</script>
</body>
</html>
